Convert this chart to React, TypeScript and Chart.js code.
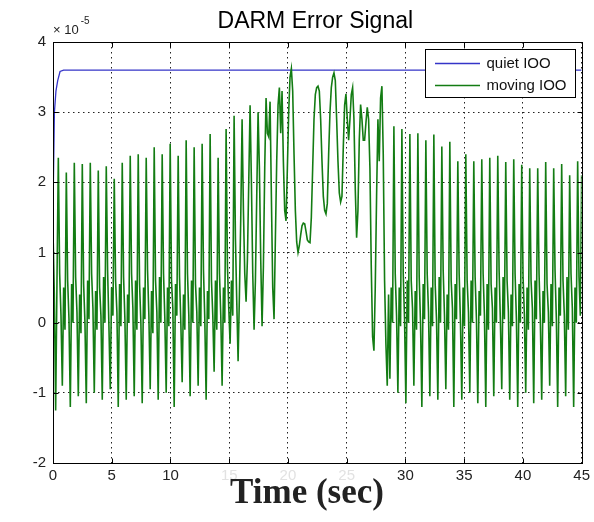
import React, { useEffect, useRef } from "react";
import { Chart, registerables } from "chart.js";

Chart.register(...registerables);

const TITLE = "DARM Error Signal";
const X_LABEL = "Time (sec)";
const Y_MULT_BASE = "\u00d7 10";
const Y_MULT_EXP = "-5";
const X_TICKS = [0, 5, 10, 15, 20, 25, 30, 35, 40, 45];
const FAINT_X_TICKS = [15, 20, 25];
const Y_TICKS = [-2, -1, 0, 1, 2, 3, 4];
const SERIES_LABELS = ["quiet IOO", "moving IOO"];
const SERIES_COLORS = ["#3434c8", "#137c13"];

// quiet IOO (units of 1e-5)
const QUIET_T = [0, 0.12, 0.25, 0.4, 0.6, 0.9, 45];
const QUIET_V = [1.6, 3.0, 3.3, 3.45, 3.58, 3.6, 3.6];

// moving IOO, sampled every MOVING_DT seconds (units of 1e-5)
const MOVING_DT = 0.11335;
const MOVING_V = [
  1.3, 0.4, -1.25, 0.6, 2.35, 0.7,
  0.1, -0.9, 0.5, -0.1, 2.14, 0.6,
  0.05, -1.2, 0.55, 0.0, 2.28, 0.65,
  0.15, -1.05, 0.4, -0.15, 2.26, 0.55,
  0.0, -1.15, 0.6, 0.05, 2.28, 0.7,
  0.2, -1.0, 0.45, -0.1, 2.17, 0.5,
  0.1, -1.1, 0.65, 0.0, 2.23, 0.75,
  -0.05, -0.95, 0.5, 0.1, 2.05, 0.6,
  0.15, -1.2, 0.55, -0.05, 2.28, 0.65,
  0.05, -1.1, 0.4, 0.0, 2.38, 0.7,
  0.2, -1.05, 0.6, -0.1, 2.4, 0.55,
  0.0, -1.15, 0.5, 0.05, 2.35, 0.75,
  0.1, -0.95, 0.45, -0.15, 2.5, 0.6,
  0.15, -1.1, 0.65, 0.0, 2.4, 0.7,
  0.05, -1.0, 0.5, -0.05, 2.55, 0.6,
  0.2, -1.2, 0.55, 0.1, 2.38, 0.65,
  0.0, -0.85, 0.4, -0.1, 2.6, 0.7,
  0.1, -1.05, 0.6, 0.0, 2.5, 0.55,
  0.15, -0.9, 0.5, -0.05, 2.55, 0.75,
  0.05, -1.1, 0.45, 0.05, 2.69, 0.6,
  0.1, -0.7, 0.6, -0.1, 2.35, 0.7,
  0.1, -0.9, 0.5, 0.0, 2.76, 0.8,
  0.2, -0.3, 0.6, 0.1, 2.95, 1.2,
  0.3, -0.55, 0.4, 1.5, 2.9, 1.6,
  0.7, 0.3, 0.9, 2.0, 3.1, 2.0,
  0.7, -0.1, 0.6, 1.8, 3.0, 2.2,
  0.9, -0.05, 0.8, 2.2, 3.2, 2.7,
  2.65, 3.15, 1.8, 0.5, 0.05, 1.2,
  2.3, 3.1, 3.35, 2.7, 3.3, 2.3,
  1.6, 1.45, 2.2, 3.0, 3.5, 3.62,
  3.3, 2.4, 1.6, 1.15, 1.0, 1.1,
  1.25, 1.38, 1.42, 1.41, 1.3, 1.18,
  1.15, 1.14, 1.5, 2.2, 2.9, 3.25,
  3.35, 3.37, 3.3, 2.9, 2.3, 1.8,
  1.6, 1.55, 1.7, 2.4, 3.0, 3.35,
  3.5, 3.56, 3.45, 2.9, 2.3, 1.85,
  1.72, 1.8, 2.5, 3.1, 3.26, 2.9,
  2.6, 2.9, 3.25, 3.35, 2.9, 1.9,
  1.21, 1.6, 2.6, 3.11, 2.9, 2.6,
  2.6, 2.85, 3.07, 2.9, 2.2, 0.8,
  -0.2, -0.4, 0.5, 1.8, 2.9, 2.3,
  3.2, 3.37, 2.4, 0.6, -0.3, -0.9,
  0.4, -0.8, 0.5, 0.0, 2.8, 0.7,
  0.1, -1.0, 0.5, -0.05, 2.76, 0.7,
  0.05, -1.15, 0.6, 0.0, 2.69, 0.6,
  0.2, -0.9, 0.45, -0.1, 2.7, 0.65,
  0.0, -1.2, 0.55, 0.05, 2.6, 0.7,
  0.15, -1.05, 0.5, -0.05, 2.68, 0.55,
  0.05, -1.1, 0.65, 0.0, 2.51, 0.75,
  0.1, -0.95, 0.4, -0.1, 2.58, 0.6,
  0.2, -1.2, 0.55, 0.05, 2.3, 0.7,
  0.0, -1.1, 0.5, -0.05, 2.4, 0.6,
  0.15, -1.0, 0.6, 0.0, 2.3, 0.65,
  0.05, -1.15, 0.45, 0.1, 2.33, 0.7,
  0.1, -1.2, 0.55, -0.1, 2.35, 0.55,
  0.2, -1.05, 0.5, 0.0, 2.38, 0.75,
  0.0, -0.95, 0.65, 0.05, 2.29, 0.6,
  0.15, -1.1, 0.4, -0.05, 2.33, 0.7,
  0.05, -1.2, 0.55, 0.0, 2.25, 0.65,
  0.1, -1.0, 0.5, -0.1, 2.2, 0.6,
  0.2, -1.15, 0.6, 0.05, 2.2, 0.7,
  0.0, -1.1, 0.45, 0.0, 2.29, 0.55,
  0.15, -0.9, 0.55, -0.05, 2.2, 0.75,
  0.05, -1.2, 0.5, 0.1, 2.26, 0.6,
  0.1, -1.05, 0.65, -0.1, 2.1, 0.7,
  0.2, -1.2, 0.5, 0.0, 2.3, 0.65,
  0.1, 2.1,
];

const SANS = "'Liberation Sans', Arial, Helvetica, sans-serif";
const SERIF = "'Liberation Serif', 'Times New Roman', serif";

const decorPlugin = {
  id: "decor",
  afterDraw(chart: any) {
    const { ctx, chartArea: a, scales } = chart;
    const xs = scales.x;
    const ys = scales.y;
    const L = Math.round(a.left) + 0.5;
    const R = Math.round(a.right) + 0.5;
    const T = Math.round(a.top) + 0.5;
    const B = Math.round(a.bottom) + 0.5;
    ctx.save();
    ctx.strokeStyle = "#000";
    ctx.lineWidth = 1;
    ctx.setLineDash([]);
    ctx.strokeRect(L, T, R - L, B - T);
    const tl = 5;
    ctx.beginPath();
    for (const v of X_TICKS) {
      const px = Math.round(xs.getPixelForValue(v)) + 0.5;
      ctx.moveTo(px, B);
      ctx.lineTo(px, B - tl);
      ctx.moveTo(px, T);
      ctx.lineTo(px, T + tl);
    }
    for (const v of Y_TICKS) {
      const py = Math.round(ys.getPixelForValue(v)) + 0.5;
      ctx.moveTo(L, py);
      ctx.lineTo(L + tl, py);
      ctx.moveTo(R, py);
      ctx.lineTo(R - tl, py);
    }
    ctx.stroke();

    // title
    ctx.fillStyle = "#000";
    ctx.font = `23px ${SANS}`;
    ctx.textAlign = "center";
    ctx.textBaseline = "alphabetic";
    ctx.fillText(TITLE, (a.left + a.right) / 2 - 2, 27.5);

    // exponent label
    ctx.fillStyle = "#222";
    ctx.textAlign = "left";
    ctx.font = `13px ${SANS}`;
    ctx.fillText(Y_MULT_BASE, a.left, 33.5);
    const bw = ctx.measureText(Y_MULT_BASE).width;
    ctx.font = `10px ${SANS}`;
    ctx.fillText(Y_MULT_EXP, a.left + bw + 2, 24);

    // x axis label
    ctx.fillStyle = "#222";
    ctx.textAlign = "center";
    ctx.font = `bold 35px ${SERIF}`;
    ctx.fillText(X_LABEL, 307, 503);

    // legend
    const lx = 425.5, ly = 49.5, lw = 150, lh = 48;
    ctx.fillStyle = "#fff";
    ctx.fillRect(lx, ly, lw, lh);
    ctx.strokeStyle = "#000";
    ctx.lineWidth = 1;
    ctx.strokeRect(lx, ly, lw, lh);
    const rows = [63.5, 85.5];
    SERIES_LABELS.forEach((label, i) => {
      ctx.strokeStyle = SERIES_COLORS[i];
      ctx.lineWidth = 1.3;
      ctx.beginPath();
      ctx.moveTo(435, rows[i]);
      ctx.lineTo(480, rows[i]);
      ctx.stroke();
      ctx.fillStyle = "#111";
      ctx.font = `15px ${SANS}`;
      ctx.textAlign = "left";
      ctx.textBaseline = "middle";
      ctx.fillText(label, 486.5, rows[i]);
    });
    ctx.restore();
  },
};

export default function App() {
  const ref = useRef<HTMLCanvasElement | null>(null);
  useEffect(() => {
    if (!ref.current) return;
    const quiet = QUIET_T.map((t, i) => ({ x: t, y: QUIET_V[i] }));
    const moving = MOVING_V.map((v, i) => ({ x: i * MOVING_DT, y: v }));
    const chart = new Chart(ref.current, {
      type: "line",
      data: {
        datasets: [
          {
            label: SERIES_LABELS[0],
            data: quiet,
            borderColor: SERIES_COLORS[0],
            borderWidth: 1.3,
            pointRadius: 0,
            tension: 0,
            order: 2,
          },
          {
            label: SERIES_LABELS[1],
            data: moving,
            borderColor: SERIES_COLORS[1],
            borderWidth: 1.6,
            pointRadius: 0,
            tension: 0,
            order: 1,
          },
        ],
      },
      options: {
        animation: false,
        responsive: false,
        devicePixelRatio: 1,
        layout: { padding: { top: 42, right: 8, left: 0, bottom: 0 } },
        plugins: {
          legend: { display: false },
          tooltip: { enabled: false },
          title: { display: false },
        },
        scales: {
          x: {
            type: "linear",
            min: 0,
            max: 45,
            afterBuildTicks: (s: any) => {
              s.ticks = X_TICKS.map((v) => ({ value: v }));
            },
            afterFit: (s: any) => {
              s.height = 59;
            },
            ticks: {
              padding: 4,
              maxRotation: 0,
              autoSkip: false,
              font: { family: SANS, size: 15 },
              color: (c: any) =>
                FAINT_X_TICKS.includes(c.tick && c.tick.value) ? "#e2e2e2" : "#222",
            },
            grid: { color: "#222", lineWidth: 1, drawTicks: false },
            border: { display: false, dash: [1.5, 3.5] },
          },
          y: {
            type: "linear",
            min: -2,
            max: 4,
            afterBuildTicks: (s: any) => {
              s.ticks = Y_TICKS.map((v) => ({ value: v }));
            },
            afterFit: (s: any) => {
              s.width = 53;
            },
            ticks: {
              padding: 7,
              font: { family: SANS, size: 15 },
              color: "#222",
            },
            grid: { color: "#222", lineWidth: 1, drawTicks: false },
            border: { display: false, dash: [1.5, 3.5] },
          },
        },
      },
      plugins: [decorPlugin],
    } as any);
    return () => chart.destroy();
  }, []);
  return (
    <div
      style={{
        position: "absolute",
        left: 0,
        top: 0,
        width: 594,
        height: 522,
        background: "#fff",
      }}
    >
      <canvas ref={ref} width={594} height={522} style={{ display: "block" }} />
    </div>
  );
}
